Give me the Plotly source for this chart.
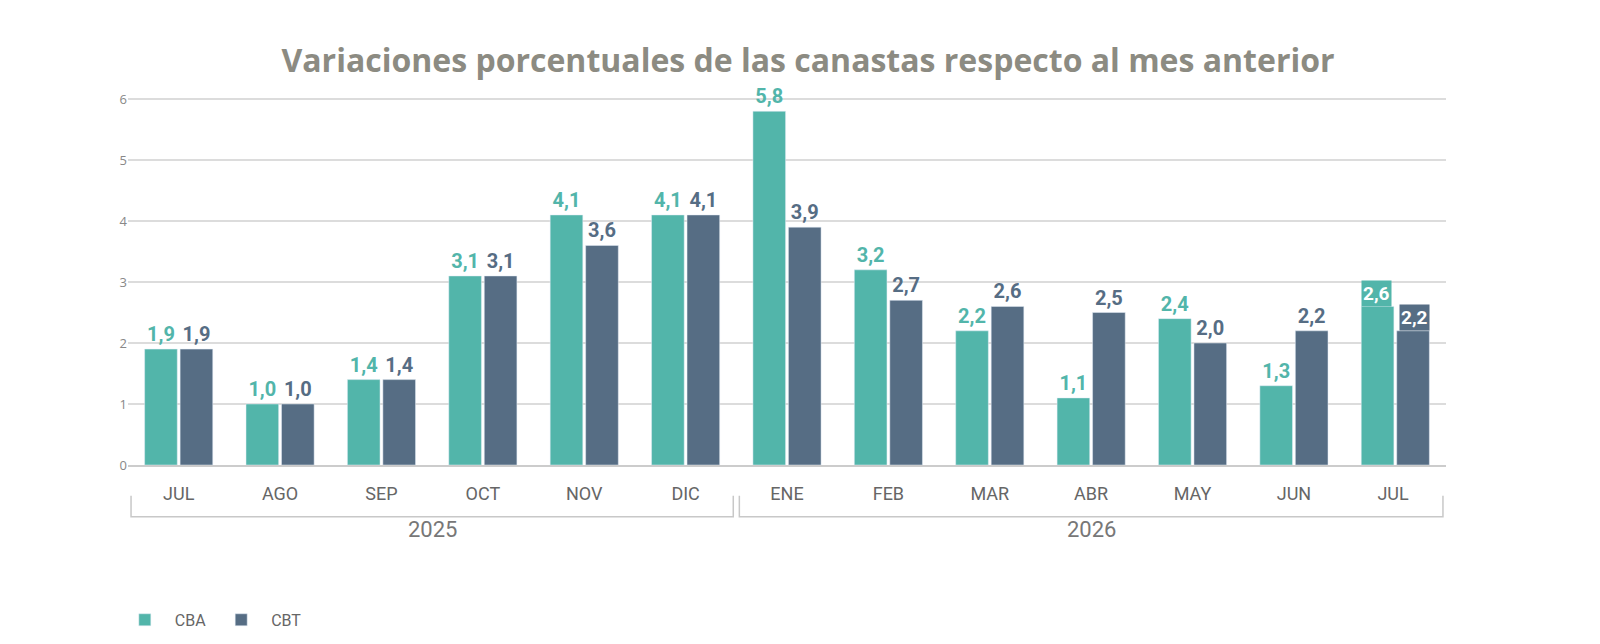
import plotly.graph_objects as go

months = ["JUL", "AGO", "SEP", "OCT", "NOV", "DIC", "ENE", "FEB", "MAR", "ABR", "MAY", "JUN", "JUL "]
cba = [1.9, 1.0, 1.4, 3.1, 4.1, 4.1, 5.8, 3.2, 2.2, 1.1, 2.4, 1.3, 2.6]
cbt = [1.9, 1.0, 1.4, 3.1, 3.6, 4.1, 3.9, 2.7, 2.6, 2.5, 2.0, 2.2, 2.2]
years = [("2025", -0.5, 5.5), ("2026", 5.5, 12.5)]

C_CBA = "#52b5aa"
C_CBT = "#566d84"

def fmt(v):
    return f"{v:.1f}".replace(".", ",")

fig = go.Figure()
for name, vals, col in [("CBA", cba, C_CBA), ("CBT", cbt, C_CBT)]:
    txt = ["<b>" + fmt(v) + "</b>" for v in vals[:-1]] + [""]
    fig.add_trace(go.Bar(x=months, y=vals, name=name, marker_color=col,
                         text=txt, textposition="outside", cliponaxis=False,
                         textfont=dict(size=20, color=col, family="Roboto")))

# boxed labels on the last month
for vals, col, sh in [(cba, C_CBA, -19), (cbt, C_CBT, 19)]:
    fig.add_annotation(x=months[-1], y=vals[-1], text="<b>" + fmt(vals[-1]) + "</b>",
                       xshift=sh, yshift=13, showarrow=False, bgcolor=col,
                       font=dict(size=19, color="white", family="Roboto"),
                       borderpad=1)

for label, x0, x1 in years:
    a, b = x0 + 0.03, x1 - 0.03
    fig.add_shape(type="path", xref="x", yref="paper",
                  path=f"M {a} -0.08 L {a} -0.135 L {b} -0.135 L {b} -0.08",
                  line=dict(color="#c8c8c8", width=1.5))
    fig.add_annotation(x=(x0 + x1) / 2, y=-0.205, xref="x", yref="paper", text=label,
                       showarrow=False, font=dict(size=22, color="#777", family="Roboto"))

fig.update_layout(
    width=1600, height=644,
    title=dict(text="<b>Variaciones porcentuales de las canastas respecto al mes anterior</b>",
               x=0.5, y=0.935, xanchor="center",
               font=dict(size=32, color="#8c8b82", family="Open Sans")),
    paper_bgcolor="white", plot_bgcolor="white",
    margin=dict(l=120, r=162, t=74, b=187),
    barmode="group", bargap=0.3, bargroupgap=0.08,
    separators=",.",
    legend=dict(orientation="h", x=-0.01, y=-0.36, xanchor="left",
                font=dict(size=16, color="#666", family="Roboto"), itemwidth=50),
    xaxis=dict(tickfont=dict(size=18, color="#666", family="Roboto"),
               showline=True, linecolor="#ccc", linewidth=1.5, ticks="",
               ticklabelstandoff=12),
    yaxis=dict(range=[0, 6.28], dtick=1, gridcolor="#dcdcdc", gridwidth=1.5,
               zeroline=False, tickfont=dict(size=13, color="#888"), ticklabelstandoff=0),
)
fig.write_html("out.html")
